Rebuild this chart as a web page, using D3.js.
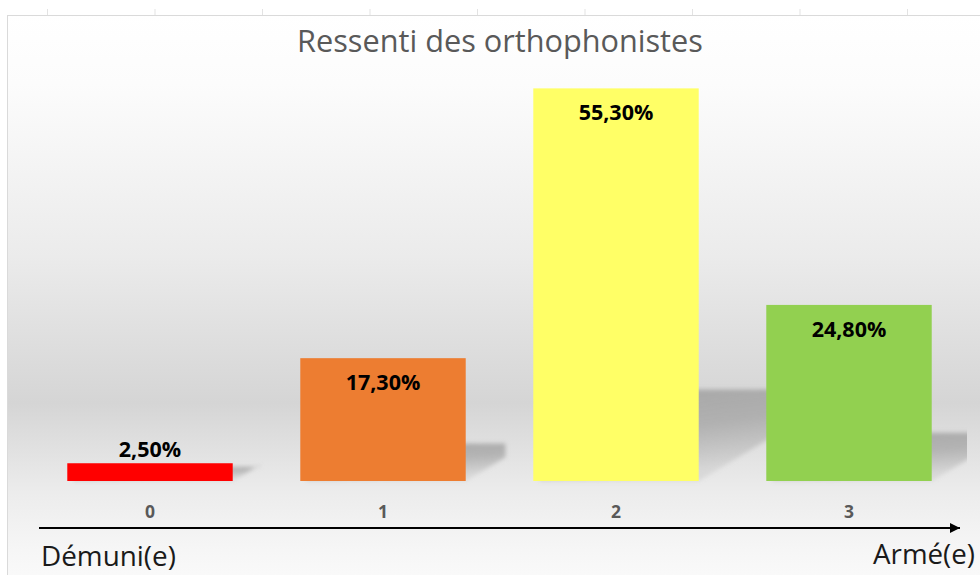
<!DOCTYPE html>
<html>
<head>
<meta charset="utf-8">
<script src="https://cdn.jsdelivr.net/npm/d3@7/dist/d3.min.js"></script>
<style>
  html, body { margin: 0; padding: 0; background: #ffffff; }
  svg { display: block; }
</style>
</head>
<body>
<svg id="chart" width="980" height="575"></svg>
<script>
// ---- data ----
const title = "Ressenti des orthophonistes";
const categories = ["0", "1", "2", "3"];
const values = [2.5, 17.3, 55.3, 24.8];
const valueLabels = ["2,50%", "17,30%", "55,30%", "24,80%"];
const barColors = ["#ff0000", "#ed7d31", "#ffff66", "#92d050"];
const leftLabel = "Démuni(e)";
const rightLabel = "Armé(e)";

const W = 980, H = 575;
const svg = d3.select("#chart");
const defs = svg.append("defs");

// background gradient
const bg = defs.append("linearGradient").attr("id", "bgGrad")
  .attr("x1", 0).attr("y1", 0).attr("x2", 0).attr("y2", 1);
[[0, "#ffffff"], [0.12, "#fcfcfc"], [0.42, "#ebebeb"], [0.675, "#d5d5d5"],
 [0.83, "#ececec"], [0.93, "#f6f6f6"], [1, "#fbfbfb"]]
  .forEach(([o, c]) => bg.append("stop").attr("offset", o).attr("stop-color", c));

const sg = defs.append("linearGradient").attr("id", "shadowGrad")
  .attr("x1", 0).attr("y1", 0).attr("x2", 0.35).attr("y2", 1);
[[0, 0.8], [0.55, 0.65], [1, 0.2]]
  .forEach(([o, a]) => sg.append("stop").attr("offset", o)
    .attr("stop-color", "#9a9a9a").attr("stop-opacity", a));

const blur = defs.append("filter").attr("id", "shadowBlur")
  .attr("x", "-20%").attr("y", "-20%").attr("width", "140%").attr("height", "140%");
blur.append("feGaussianBlur").attr("stdDeviation", 2.2);

defs.append("clipPath").attr("id", "plotClip")
  .append("rect").attr("x", 20).attr("y", 60).attr("width", 947).attr("height", 430);

defs.append("marker").attr("id", "arrowHead")
  .attr("viewBox", "0 0 10 10").attr("refX", 10).attr("refY", 5)
  .attr("markerWidth", 12).attr("markerHeight", 10)
  .attr("markerUnits", "userSpaceOnUse").attr("orient", "auto")
  .append("path").attr("d", "M0,0 L10,5 L0,10 Z").attr("fill", "#000");

// spreadsheet frame
svg.append("rect").attr("x", 7).attr("y", 15).attr("width", W).attr("height", H)
  .attr("fill", "url(#bgGrad)");
svg.append("line").attr("x1", 7).attr("x2", W).attr("y1", 15.5).attr("y2", 15.5)
  .attr("stroke", "#dadada").attr("stroke-width", 1);
svg.append("line").attr("x1", 7.5).attr("x2", 7.5).attr("y1", 15).attr("y2", H)
  .attr("stroke", "#dadada").attr("stroke-width", 1);
svg.append("g").selectAll("line").data(d3.range(47, W, 107.5)).join("line")
  .attr("x1", d => d + 0.5).attr("x2", d => d + 0.5).attr("y1", 9).attr("y2", 15)
  .attr("stroke", "#e3e3e3");

// scales
const x = d3.scaleBand().domain(categories).range([33.5, 965.5])
  .paddingInner(0.29).paddingOuter(0.145);
const y = d3.scaleLinear().domain([0, 60]).range([481, 55]);
const base = y(0);

const data = categories.map((c, i) => ({ c, v: values[i], label: valueLabels[i], color: barColors[i] }));

// shadows
svg.append("g").attr("clip-path", "url(#plotClip)")
  .selectAll("path").data(data).join("path")
  .attr("d", d => {
    const x0 = x(d.c), x1 = x0 + x.bandwidth();
    const h = base - y(d.v);
    const dx = 0.12 * h + 25;
    const hs = Math.min(h * 0.8, 0.2 * h + 13);
    return `M${x0 + 6},${base} L${x1},${base} L${x1 + dx},${base - 0.6 * dx} ` +
           `L${x1 + dx},${base - hs} L${x0 + 6},${base - hs} Z`;
  })
  .attr("fill", "url(#shadowGrad)")
  .attr("filter", "url(#shadowBlur)");

// bars
svg.append("g").selectAll("rect").data(data).join("rect")
  .attr("x", d => x(d.c)).attr("y", d => y(d.v))
  .attr("width", x.bandwidth()).attr("height", d => base - y(d.v))
  .attr("fill", d => d.color);

// value labels
svg.append("g").selectAll("text").data(data).join("text")
  .attr("x", d => x(d.c) + x.bandwidth() / 2)
  .attr("y", d => (base - y(d.v) < 30) ? y(d.v) - 6 : y(d.v) + 32)
  .attr("text-anchor", "middle")
  .attr("font-family", "'Open Sans', sans-serif").attr("font-weight", 700)
  .attr("font-size", 21.5).attr("fill", "#000")
  .text(d => d.label);

// category axis
const axis = svg.append("g").attr("transform", `translate(0,${base})`)
  .call(d3.axisBottom(x).tickSize(0).tickPadding(0));
axis.select(".domain").remove();
axis.selectAll("text")
  .attr("y", 37).attr("dy", 0)
  .attr("font-family", "'Open Sans', sans-serif").attr("font-weight", 700)
  .attr("font-size", 17.5).attr("fill", "#595959");

// arrow
svg.append("line").attr("x1", 39).attr("x2", 960).attr("y1", 528).attr("y2", 528)
  .attr("stroke", "#000").attr("stroke-width", 2).attr("marker-end", "url(#arrowHead)");

function fitWidth(sel, target) {
  const fs = parseFloat(sel.attr("font-size"));
  const len = sel.node().getComputedTextLength();
  if (len > 0) sel.attr("font-size", fs * target / len);
}

// title
const t = svg.append("text").attr("x", 500).attr("y", 52).attr("text-anchor", "middle")
  .attr("font-family", "'Open Sans', sans-serif").attr("font-size", 28)
  .attr("fill", "#595959").text(title);
fitWidth(t, 406);

const l = svg.append("text").attr("x", 41).attr("y", 566)
  .attr("font-family", "'Open Sans', sans-serif").attr("font-size", 26)
  .attr("fill", "#1a1a1a").text(leftLabel);
fitWidth(l, 135);
const r = svg.append("text").attr("x", 975).attr("y", 564).attr("text-anchor", "end")
  .attr("font-family", "'Open Sans', sans-serif").attr("font-size", 26)
  .attr("fill", "#1a1a1a").text(rightLabel);
fitWidth(r, 102);
</script>
</body>
</html>
